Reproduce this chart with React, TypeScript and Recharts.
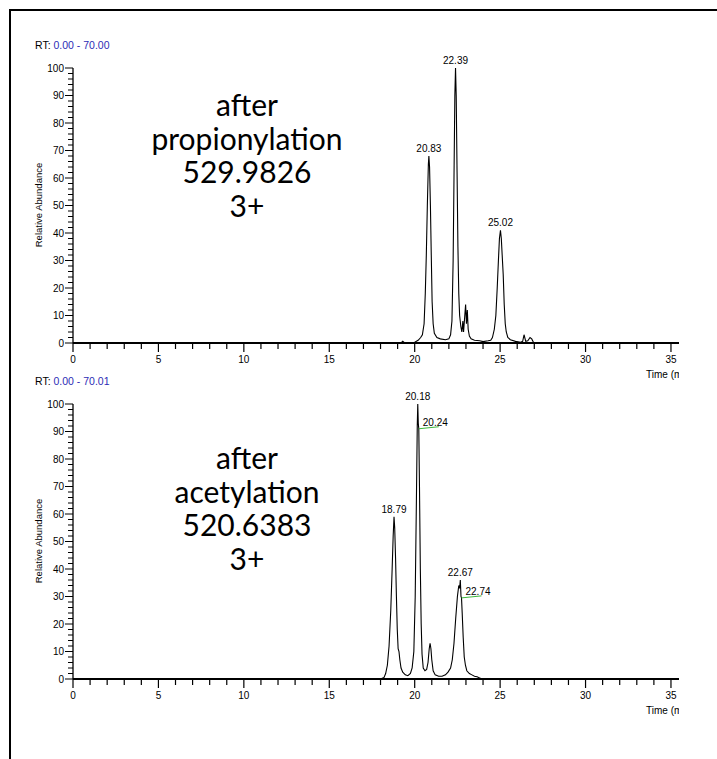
import React from "react"
import { LineChart, Line, XAxis, YAxis, ReferenceDot } from "recharts"

// retention time (min), relative abundance (%)
const propionylTrace: [number, number][] = [
  [0, 0], [19.2, 0], [19.3, 0.6], [19.4, 0.1], [20.0, 0.3], [20.2, 1], [20.35, 2],
  [20.45, 3], [20.55, 7], [20.62, 18], [20.68, 32], [20.74, 50], [20.8, 65], [20.83, 68],
  [20.87, 64], [20.92, 50], [20.97, 32], [21.02, 15], [21.08, 7], [21.15, 3.5], [21.3, 2],
  [21.5, 1.5], [21.8, 1.2], [22.0, 1.5], [22.1, 3], [22.18, 8], [22.25, 30], [22.3, 60],
  [22.35, 90], [22.39, 100], [22.43, 90], [22.48, 62], [22.53, 35], [22.58, 18], [22.63, 10],
  [22.7, 6], [22.76, 4], [22.82, 8], [22.86, 4], [22.92, 9], [22.98, 14], [23.03, 7],
  [23.08, 12], [23.13, 5], [23.2, 2.5], [23.3, 1.5], [23.5, 1], [23.8, 0.8], [24.0, 0.5],
  [24.3, 0.8], [24.45, 1], [24.55, 2], [24.66, 5], [24.75, 10], [24.83, 20], [24.9, 30],
  [24.96, 38], [25.02, 41], [25.07, 38], [25.12, 32], [25.18, 25], [25.24, 14], [25.3, 7],
  [25.36, 4], [25.45, 2], [25.6, 1.2], [25.9, 0.6], [26.2, 0.3], [26.32, 0.6], [26.4, 3],
  [26.5, 0.6], [26.62, 0.8], [26.75, 2], [26.85, 1.5], [26.95, 0.3], [27.2, 0], [35.5, 0],
]

const acetylTrace: [number, number][] = [
  [0, 0], [18.0, 0], [18.2, 0.5], [18.3, 2], [18.4, 5], [18.5, 12], [18.6, 25], [18.68, 40],
  [18.74, 52], [18.79, 59], [18.83, 55], [18.88, 44], [18.93, 30], [18.98, 18], [19.03, 11],
  [19.08, 10], [19.13, 7], [19.2, 4], [19.3, 2.5], [19.45, 1.5], [19.6, 1.2], [19.75, 2],
  [19.85, 4], [19.95, 10], [20.03, 30], [20.1, 65], [20.15, 92], [20.18, 100], [20.21, 93],
  [20.24, 91], [20.28, 70], [20.33, 40], [20.38, 20], [20.43, 9], [20.5, 4], [20.6, 3],
  [20.7, 3.5], [20.78, 6], [20.85, 11], [20.9, 13], [20.95, 11], [21.0, 7], [21.08, 3],
  [21.2, 1.5], [21.4, 1], [21.6, 1], [21.8, 1.5], [21.95, 2.5], [22.1, 4], [22.2, 7],
  [22.3, 13], [22.4, 22], [22.5, 30], [22.58, 34], [22.63, 33], [22.67, 36], [22.71, 30],
  [22.74, 29.5], [22.78, 24], [22.84, 15], [22.9, 8], [22.97, 5], [23.05, 3], [23.2, 2],
  [23.35, 1.5], [23.5, 1], [23.65, 0.8], [23.8, 0.4], [23.95, 0], [35.5, 0],
]

const propionylPeaks: [number, number][] = [[20.83, 68], [22.39, 100], [25.02, 41]]
const propionylSide: [number, number][] = []
const acetylPeaks: [number, number][] = [[18.79, 59], [20.18, 100], [22.67, 36]]
const acetylSide: [number, number][] = [[20.24, 91], [22.74, 29.5]]

const xMajor = [0, 5, 10, 15, 20, 25, 30, 35]
const xTicks = Array.from({ length: 36 }, (_, i) => i)
const yTicks = Array.from({ length: 51 }, (_, i) => i * 2)

const tickFont = "'Liberation Sans', Arial, sans-serif"

const XTick = ({ x, y, payload }: any) => {
  const major = xMajor.includes(payload.value)
  return (
    <g>
      <line x1={x} x2={x} y1={y} y2={y + (major ? 9 : 6)} stroke="#000" strokeWidth={1.2} />
      {major && (
        <text x={x} y={y + 20} textAnchor="middle" fontSize={10} fontFamily={tickFont} fill="#000">
          {payload.value}
        </text>
      )}
    </g>
  )
}

const YTick = ({ x, y, payload }: any) => {
  const major = payload.value % 10 === 0
  return (
    <g>
      <line x1={x - (major ? 8 : 5)} x2={x} y1={y} y2={y} stroke="#000" strokeWidth={1} />
      {major && (
        <text x={x - 9} y={y + 3.5} textAnchor="end" fontSize={10} fontFamily={tickFont} fill="#000">
          {payload.value}
        </text>
      )}
    </g>
  )
}

function Panel({
  top, trace, peaks, side, rt, lines, textTop,
}: {
  top: number
  trace: [number, number][]
  peaks: [number, number][]
  side: [number, number][]
  rt: string
  lines: string[]
  textTop: number
}) {
  const data = trace.map(([t, v]) => ({ t, v }))
  return (
    <div style={{ position: "absolute", left: 0, top, width: 679, height: 380, overflow: "hidden" }}>
      <LineChart width={679} height={380} data={data} margin={{ top: 68, right: 0, bottom: 17, left: 33 }}>
        <XAxis
          dataKey="t"
          type="number"
          domain={[0, 35.47]}
          allowDataOverflow
          ticks={xTicks}
          interval={0}
          tickLine={false}
          tickSize={0}
          tickMargin={0}
          height={20}
          axisLine={{ stroke: "#000", strokeWidth: 2 }}
          tick={<XTick />}
        />
        <YAxis
          type="number"
          domain={[0, 100]}
          ticks={yTicks}
          interval={0}
          tickLine={false}
          tickSize={0}
          tickMargin={0}
          width={40}
          axisLine={{ stroke: "#000", strokeWidth: 1.3 }}
          tick={<YTick />}
        />
        <Line
          dataKey="v"
          type="linear"
          stroke="#000"
          strokeWidth={1.1}
          dot={false}
          isAnimationActive={false}
        />
        {peaks.map(([t, v]) => (
          <ReferenceDot
            key={"p" + t}
            x={t}
            y={v}
            r={0}
            shape={(p: any) => (
              <text x={p.cx} y={p.cy - 4} textAnchor="middle" fontSize={10} fontFamily={tickFont} fill="#000">
                {t.toFixed(2)}
              </text>
            )}
          />
        ))}
        {side.map(([t, v]) => (
          <ReferenceDot
            key={"s" + t}
            x={t}
            y={v}
            r={0}
            shape={(p: any) => (
              <g>
                <line x1={p.cx} y1={p.cy} x2={p.cx + 20} y2={p.cy - 2} stroke="#3cb83c" strokeWidth={1} />
                <text x={p.cx + 4} y={p.cy - 3} fontSize={10} fontFamily={tickFont} fill="#000">
                  {t.toFixed(2)}
                </text>
              </g>
            )}
          />
        ))}
      </LineChart>
      <div style={{ position: "absolute", left: 35, top: 39, fontSize: 10.5, fontFamily: tickFont, whiteSpace: "nowrap" }}>
        RT: <span style={{ color: "#2b2bb5" }}>{rt}</span>
      </div>
      <div
        style={{
          position: "absolute",
          left: 38,
          top: 205,
          fontSize: 9.5,
          fontFamily: tickFont,
          whiteSpace: "nowrap",
          transform: "translate(-50%, -50%) rotate(-90deg)",
        }}
      >
        Relative Abundance
      </div>
      <div style={{ position: "absolute", left: 646, top: 369, fontSize: 10, fontFamily: tickFont, whiteSpace: "nowrap" }}>
        Time (min)
      </div>
      <div
        style={{
          position: "absolute",
          left: 0,
          width: 494,
          top: textTop,
          textAlign: "center",
          fontSize: 30,
          lineHeight: "33.7px",
          fontFamily: "Lato, 'Open Sans', sans-serif",
          color: "#000",
        }}
      >
        {lines.map((l) => (
          <div key={l}>{l}</div>
        ))}
      </div>
    </div>
  )
}

export default function App() {
  return (
    <div style={{ position: "absolute", left: 0, top: 0, width: 717, height: 759, background: "#fff", overflow: "hidden" }}>
      <div
        style={{
          position: "absolute",
          left: 9,
          top: 9,
          width: 720,
          height: 760,
          borderTop: "2px solid #000",
          borderLeft: "2px solid #000",
        }}
      />
      <Panel
        top={0}
        trace={propionylTrace}
        peaks={propionylPeaks}
        side={propionylSide}
        rt="0.00 - 70.00"
        lines={["after", "propionylation", "529.9826", "3+"]}
        textTop={88}
      />
      <Panel
        top={336}
        trace={acetylTrace}
        peaks={acetylPeaks}
        side={acetylSide}
        rt="0.00 - 70.01"
        lines={["after", "acetylation", "520.6383", "3+"]}
        textTop={105}
      />
    </div>
  )
}
